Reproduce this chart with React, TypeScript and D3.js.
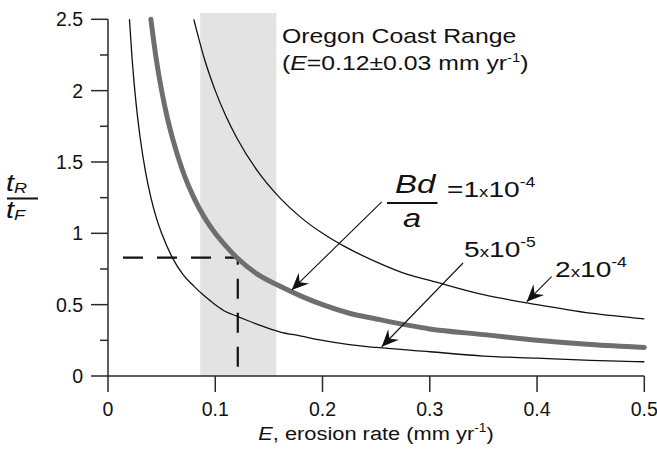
import React from 'react';
import * as d3 from 'd3';

const W = 657;
const H = 452;

// Axis ticks
const xTicks = [0, 0.1, 0.2, 0.3, 0.4, 0.5];
const xTickLabels = ['0', '0.1', '0.2', '0.3', '0.4', '0.5'];
const yTicks = [0, 0.5, 1, 1.5, 2, 2.5];
const yTickLabels = ['0', '0.5', '1', '1.5', '2', '2.5'];
const yMinorTicks = [0.25, 0.75, 1.25, 1.75, 2.25];

// Curves: Bd/a = 5x10^-5 (thin), 1x10^-4 (thick), 2x10^-4 (thin)
const lowE = [0.02, 0.0225, 0.025, 0.0275, 0.03, 0.035, 0.04, 0.045, 0.05, 0.06, 0.07, 0.08, 0.09, 0.1, 0.11, 0.12, 0.14, 0.16, 0.18, 0.2, 0.225, 0.25, 0.3, 0.35, 0.4, 0.45, 0.5];
const lowV = [2.5, 2.22, 2.0, 1.82, 1.67, 1.43, 1.25, 1.11, 1.0, 0.83, 0.71, 0.63, 0.56, 0.5, 0.45, 0.42, 0.36, 0.31, 0.28, 0.25, 0.22, 0.2, 0.17, 0.14, 0.125, 0.11, 0.1];

const midE = [0.04, 0.045, 0.05, 0.055, 0.06, 0.07, 0.08, 0.09, 0.1, 0.11, 0.12, 0.14, 0.16, 0.18, 0.2, 0.225, 0.25, 0.3, 0.35, 0.4, 0.45, 0.5];
const midV = [2.5, 2.22, 2.0, 1.82, 1.67, 1.43, 1.25, 1.11, 1.0, 0.91, 0.83, 0.71, 0.63, 0.56, 0.5, 0.44, 0.4, 0.33, 0.29, 0.25, 0.22, 0.2];

const highE = [0.08, 0.09, 0.1, 0.11, 0.12, 0.14, 0.16, 0.18, 0.2, 0.22, 0.25, 0.28, 0.3, 0.35, 0.4, 0.45, 0.5];
const highV = [2.5, 2.22, 2.0, 1.82, 1.67, 1.43, 1.25, 1.11, 1.0, 0.91, 0.8, 0.71, 0.67, 0.57, 0.5, 0.44, 0.4];

// Oregon Coast Range band (E = 0.12 ± 0.03)
const bandE = [0.086, 0.157];
// Dashed reading: E=0.12 -> tR/tF
const readE = [0.014, 0.121];
const readV = 0.83;

// Arrows [tailE, tailV, tipE, tipV]
const arrowMid = [0.2552, 1.221, 0.1713, 0.603];
const arrowLow = [0.331, 0.792, 0.2552, 0.205];
const arrowHigh = [0.4136, 0.696, 0.3904, 0.521];

const FONT = '"Liberation Sans", Arial, Helvetica, sans-serif';

function ST({ x, y, sx = 1.2, size = 19, anchor = 'start', italic = false, children }: any) {
  return (
    <g transform={`translate(${x},${y}) scale(${sx},1)`}>
      <text x={0} y={0} fontSize={size} textAnchor={anchor} fontStyle={italic ? 'italic' : 'normal'} fill="#111" fontFamily={FONT}>
        {children}
      </text>
    </g>
  );
}

export default function App() {
  const x = d3.scaleLinear().domain([0, 0.5]).range([108, 644.3]);
  const y = d3.scaleLinear().domain([0, 2.5]).range([376, 19.3]);

  const line = d3
    .line<[number, number]>()
    .x((d) => x(d[0]))
    .y((d) => y(d[1]))
    .curve(d3.curveMonotoneX);

  const zip = (a: number[], b: number[]) => a.map((e, i) => [e, b[i]] as [number, number]);

  const axisColor = '#2a2a2a';

  const arrow = (a: number[], key: string) => {
    const x1 = x(a[0]), y1 = y(a[1]), x2 = x(a[2]), y2 = y(a[3]);
    const ang = (Math.atan2(y2 - y1, x2 - x1) * 180) / Math.PI;
    return (
      <g key={key}>
        <line x1={x1} y1={y1} x2={x2} y2={y2} stroke="#111" strokeWidth={1.1} />
        <path
          d="M0,0 L-17,-7.5 L-11,0 L-17,7.5 Z"
          fill="#111"
          transform={`translate(${x2},${y2}) rotate(${ang})`}
        />
      </g>
    );
  };

  return (
    <svg width={W} height={H} style={{ position: 'absolute', left: 0, top: 0, background: '#fff' }}>
      {/* shaded band */}
      <rect x={x(bandE[0])} y={13} width={x(bandE[1]) - x(bandE[0])} height={y(0) - 13} fill="#e3e3e3" />

      {/* dashed reading lines */}
      <path
        d={`M${x(readE[0])},${y(readV)} L${x(readE[1])},${y(readV)} L${x(readE[1])},${y(0)}`}
        fill="none"
        stroke="#111"
        strokeWidth={2.2}
        strokeDasharray="20,14"
      />

      {/* curves */}
      <path d={line(zip(lowE, lowV)) || ''} fill="none" stroke="#111" strokeWidth={1.3} />
      <path d={line(zip(highE, highV)) || ''} fill="none" stroke="#111" strokeWidth={1.3} />
      <path d={line(zip(midE, midV)) || ''} fill="none" stroke="#6e6e6e" strokeWidth={5} strokeLinecap="round" />

      {/* axes */}
      <line x1={x(0)} y1={y(2.5)} x2={x(0)} y2={y(0)} stroke={axisColor} strokeWidth={1.5} />
      <line x1={x(0)} y1={y(0)} x2={x(0.5)} y2={y(0)} stroke={axisColor} strokeWidth={1.5} />
      {yTicks.map((t, i) => (
        <g key={'yt' + i}>
          <line x1={x(0) - 17} x2={x(0)} y1={y(t)} y2={y(t)} stroke={axisColor} strokeWidth={1.5} />
          <text x={83} y={y(t) + 7} fontSize={19.5} textAnchor="end" fill="#111" fontFamily={FONT}>
            {yTickLabels[i]}
          </text>
        </g>
      ))}
      {yMinorTicks.map((t, i) => (
        <line key={'ym' + i} x1={x(0) - 8} x2={x(0)} y1={y(t)} y2={y(t)} stroke={axisColor} strokeWidth={1.5} />
      ))}
      {xTicks.map((t, i) => (
        <g key={'xt' + i}>
          <line x1={x(t)} x2={x(t)} y1={y(0)} y2={y(0) + 16} stroke={axisColor} strokeWidth={1.5} />
          <text x={x(t)} y={416} fontSize={19.5} textAnchor="middle" fill="#111" fontFamily={FONT}>
            {xTickLabels[i]}
          </text>
        </g>
      ))}

      {/* x axis title */}
      <ST x={376} y={440} anchor="middle" sx={1.15} size={19}>
        <tspan fontStyle="italic">E</tspan>
        <tspan>, erosion rate (mm yr</tspan>
        <tspan fontSize={12} dy={-8}>-1</tspan>
        <tspan dy={8}>)</tspan>
      </ST>

      {/* y axis title: tR / tF */}
      <ST x={6} y={191} sx={1.2} size={24} italic>
        <tspan>t</tspan>
        <tspan fontSize={15} dy={2}>R</tspan>
      </ST>
      <line x1={7} x2={38} y1={198.5} y2={198.5} stroke="#111" strokeWidth={2} />
      <ST x={6} y={218} sx={1.2} size={24} italic>
        <tspan>t</tspan>
        <tspan fontSize={15} dy={2}>F</tspan>
      </ST>

      {/* Oregon Coast Range */}
      <ST x={282} y={42.5} sx={1.24} size={20}>
        Oregon Coast Range
      </ST>
      <ST x={282} y={70} sx={1.24} size={20}>
        <tspan>(</tspan>
        <tspan fontStyle="italic">E</tspan>
        <tspan>=0.12±0.03 mm yr</tspan>
        <tspan fontSize={12} dy={-8}>-1</tspan>
        <tspan dy={8}>)</tspan>
      </ST>

      {/* Bd/a = 1x10-4 */}
      <ST x={395} y={193} sx={1.32} size={25} italic>
        Bd
      </ST>
      <line x1={387} x2={437.5} y1={203} y2={203} stroke="#111" strokeWidth={2.2} />
      <ST x={412} y={226.5} sx={1.3} size={25} anchor="middle" italic>
        a
      </ST>
      <ST x={447} y={197} sx={1.25} size={22.5}>
        <tspan>=1</tspan>
        <tspan fontSize={15}>x</tspan>
        <tspan>10</tspan>
        <tspan fontSize={14} dy={-10}>-4</tspan>
      </ST>

      <ST x={464} y={257} sx={1.25} size={22.5}>
        <tspan>5</tspan>
        <tspan fontSize={15}>x</tspan>
        <tspan>10</tspan>
        <tspan fontSize={14} dy={-10}>-5</tspan>
      </ST>

      <ST x={555} y={277} sx={1.25} size={22.5}>
        <tspan>2</tspan>
        <tspan fontSize={15}>x</tspan>
        <tspan>10</tspan>
        <tspan fontSize={14} dy={-10}>-4</tspan>
      </ST>

      {arrow(arrowMid, 'am')}
      {arrow(arrowLow, 'al')}
      {arrow(arrowHigh, 'ah')}
    </svg>
  );
}
